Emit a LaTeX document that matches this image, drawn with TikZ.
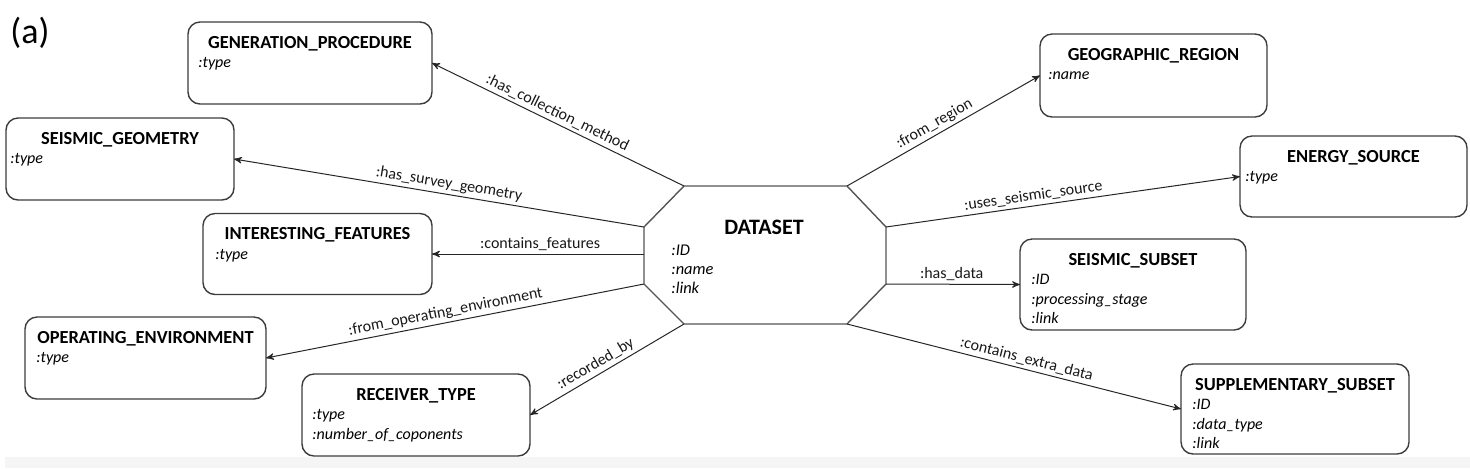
\documentclass[tikz,border=0pt]{standalone}
\usepackage{fontspec}
\setmainfont{Carlito}
\usetikzlibrary{arrows,positioning}
\definecolor{boxgray}{HTML}{3C3C3C}
\definecolor{octgray}{HTML}{555555}
\definecolor{linkgray}{HTML}{262626}

\begin{document}
\begin{tikzpicture}[x=0.5pt,y=-0.5pt,>=stealth',
	entity/.style={draw=boxgray,line width=0.7pt,rounded corners=6pt,inner sep=0pt,outer sep=0pt},
	etitle/.style={anchor=base,inner sep=0pt,font=\fontsize{9.2}{11}\selectfont\bfseries},
	eattr/.style={anchor=base west,inner sep=0pt,text width=110pt,align=left,font=\fontsize{8}{9.8}\selectfont\itshape},
	link/.style={draw=linkgray,line width=0.5pt},
	lbl/.style={sloped,above,inner sep=1.5pt,font=\fontsize{8}{9.6}\selectfont,text=black!90}]

	\useasboundingbox (0,0) rectangle (1470,468);
	\fill[black!4] (5,457) rectangle (1470,468);

	\node[inner sep=0pt,font=\fontsize{18}{20}\selectfont] (tag) at (30,33) {(a)};

	% central dataset
	\coordinate (dstl) at (684,186);
	\coordinate (dstr) at (847,186);
	\coordinate (dsrt) at (886,227);
	\coordinate (dsrb) at (886,284);
	\coordinate (dsbr) at (847,324);
	\coordinate (dsbl) at (684,324);
	\coordinate (dslb) at (644,284);
	\coordinate (dslt) at (644,227);
	\coordinate (dsl) at (644,254);
	\draw[draw=octgray,line width=0.7pt] (dstl) -- (dstr) -- (dsrt) -- (dsrb) -- (dsbr) -- (dsbl) -- (dslb) -- (dslt) -- cycle;
	\node[anchor=base,inner sep=0pt,font=\fontsize{11}{13}\selectfont\bfseries] (ds) at (764,234) {DATASET};
	\node[anchor=base west,inner sep=0pt,text width=60pt,align=left,font=\fontsize{8.2}{9.5}\selectfont\itshape] (dsattr) at (671,255) {:ID\\:name\\:link};

	% left entities
	\node[entity,minimum width=122pt,minimum height=41pt] (gp) at (310,63) {};
	\node[etitle] (gptitle) at ([yshift=-13pt]gp.north) {GENERATION\_PROCEDURE};
	\node[eattr] (gpattr) at ([xshift=5pt,yshift=-22.75pt]gp.north west) {:type};

	\node[entity,minimum width=114pt,minimum height=41pt] (sg) at (120,159) {};
	\node[etitle] (sgtitle) at ([yshift=-13pt]sg.north) {SEISMIC\_GEOMETRY};
	\node[eattr] (sgattr) at ([xshift=2pt,yshift=-22.75pt]sg.north west) {:type};

	\node[entity,minimum width=114.5pt,minimum height=40.5pt] (if) at (317.5,254) {};
	\node[etitle] (iftitle) at ([yshift=-13pt]if.north) {INTERESTING\_FEATURES};
	\node[eattr] (ifattr) at ([xshift=6pt,yshift=-22.75pt]if.north west) {:type};

	\node[entity,minimum width=120.5pt,minimum height=41pt] (oe) at (145.5,358) {};
	\node[etitle] (oetitle) at ([yshift=-13pt]oe.north) {OPERATING\_ENVIRONMENT};
	\node[eattr] (oeattr) at ([xshift=5.5pt,yshift=-22.75pt]oe.north west) {:type};

	\node[entity,minimum width=114pt,minimum height=41pt] (rt) at (416,415) {};
	\node[etitle] (rttitle) at ([yshift=-13pt]rt.north) {RECEIVER\_TYPE};
	\node[eattr] (rtattr) at ([xshift=5pt,yshift=-22.75pt]rt.north west) {:type\\:number\_of\_coponents};

	% right entities
	\node[entity,minimum width=113.5pt,minimum height=41.5pt] (gr) at (1153.5,75.5) {};
	\node[etitle] (grtitle) at ([yshift=-13pt]gr.north) {GEOGRAPHIC\_REGION};
	\node[eattr] (grattr) at ([xshift=4pt,yshift=-22.75pt]gr.north west) {:name};

	\node[entity,minimum width=113.5pt,minimum height=40.5pt] (es) at (1353.5,176.5) {};
	\node[etitle] (estitle) at ([yshift=-13pt]es.north) {ENERGY\_SOURCE};
	\node[eattr] (esattr) at ([xshift=2.5pt,yshift=-22.75pt]es.north west) {:type};

	\node[entity,minimum width=113pt,minimum height=45.5pt] (ss) at (1133,284.5) {};
	\node[etitle] (sstitle) at ([yshift=-13pt]ss.north) {SEISMIC\_SUBSET};
	\node[eattr] (ssattr) at ([xshift=5.5pt,yshift=-22.75pt]ss.north west) {:ID\\:processing\_stage\\:link};

	\node[entity,minimum width=114pt,minimum height=45pt] (sp) at (1295,409) {};
	\node[etitle] (sptitle) at ([yshift=-13pt]sp.north) {SUPPLEMENTARY\_SUBSET};
	\node[eattr] (spattr) at ([xshift=5.5pt,yshift=-22.75pt]sp.north west) {:ID\\:data\_type\\:link};

	% relations
	\draw[link,<-] (gp.east) -- node[lbl,pos=0.48] {:has\_collection\_method} (dstl);
	\draw[link,<-] (sg.east) -- node[lbl,pos=0.52] {:has\_survey\_geometry} (dslt);
	\draw[link,<-] (if.east) -- node[lbl,pos=0.51] {:contains\_features} (dsl);
	\draw[link,<-] (oe.east) -- node[lbl,pos=0.48] {:from\_operating\_environment} (dslb);
	\draw[link,<-] (rt.east) -- node[lbl,pos=0.46] {:recorded\_by} (dsbl);
	\draw[link,->] (dstr) -- node[lbl,pos=0.48] {:from\_region} (gr.west);
	\draw[link,->] (dsrt) -- node[lbl,pos=0.42] {:uses\_seismic\_source} (es.west);
	\draw[link,->] (dsrb) -- node[lbl,pos=0.49] {:has\_data} (ss.west);
	\draw[link,->] (dsbr) -- node[lbl,pos=0.53] {:contains\_extra\_data} (sp.west);
\end{tikzpicture}
\end{document}
